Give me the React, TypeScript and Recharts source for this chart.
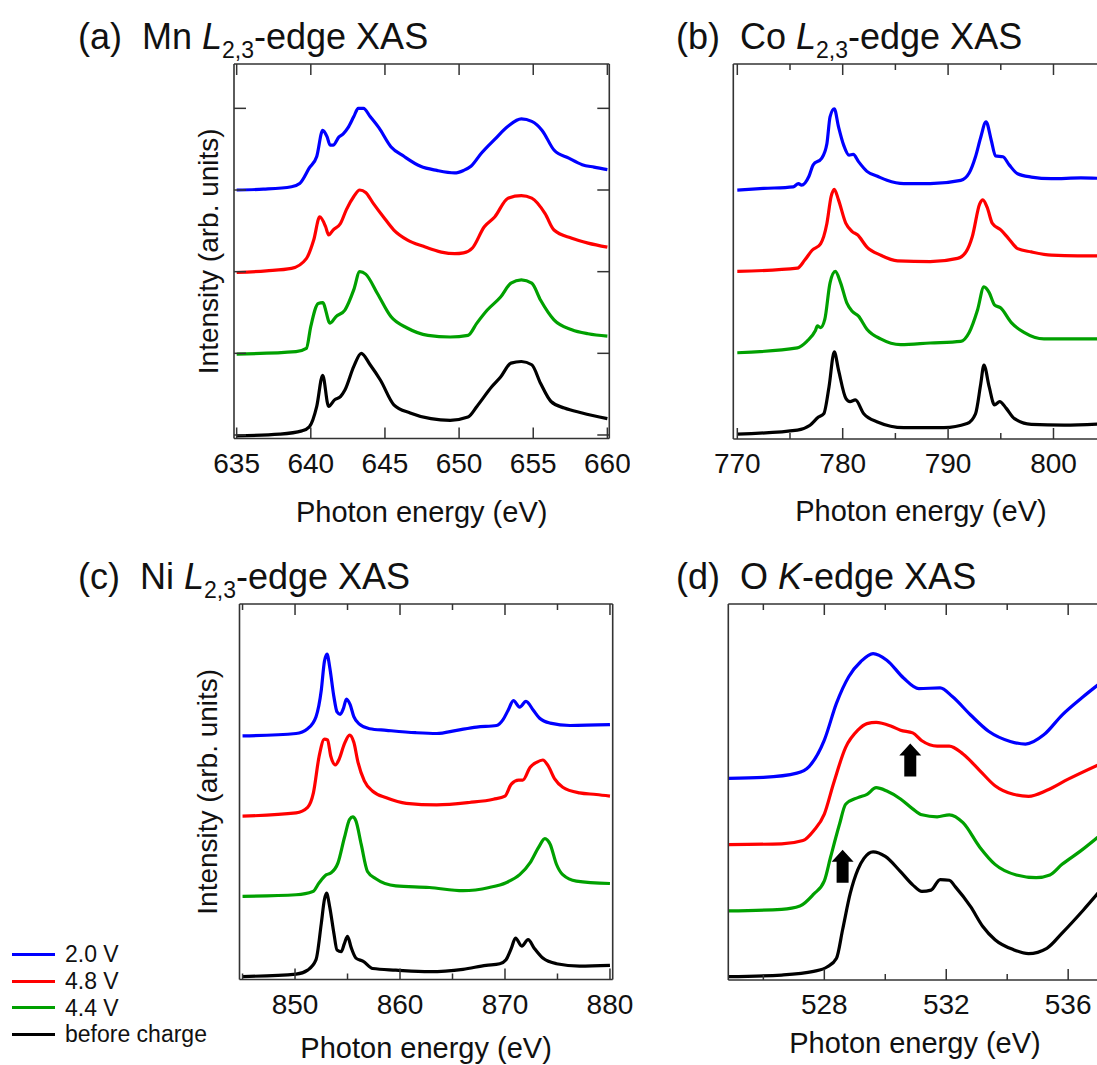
import React from 'react';
import { LineChart, Line, XAxis, YAxis, Legend, ReferenceDot } from 'recharts';

type Pt = [number, number];

const seriesNames = ['2.0 V', '4.8 V', '4.4 V', 'before charge'];
const seriesColors = ['#0000ff', '#ff0000', '#00a000', '#000000'];
const offsets = [3, 2, 1, 0];

// (a) Mn L2,3-edge, intensities relative to each trace baseline
const mnBlue: Pt[] = [[635, 0], [636.8, 0.01], [638.7, 0.04], [639.25, 0.08], [639.9, 0.27], [640.4, 0.41], [640.8, 0.73], [641.1, 0.65], [641.3, 0.55], [641.5, 0.55], [641.9, 0.65], [642.2, 0.69], [642.5, 0.76], [642.9, 0.9], [643.2, 1.0], [643.55, 1.0], [644.0, 0.9], [644.6, 0.76], [645.4, 0.53], [646.3, 0.41], [647.4, 0.29], [648.5, 0.24], [649.7, 0.21], [650.3, 0.24], [650.8, 0.29], [651.5, 0.45], [652.4, 0.62], [653.3, 0.78], [654.2, 0.87], [654.9, 0.84], [655.6, 0.73], [656.4, 0.49], [657.4, 0.39], [658.3, 0.31], [659.1, 0.28], [660, 0.25]];
const mnRed: Pt[] = [[635, -0.01], [637, 0.01], [638.7, 0.04], [639.7, 0.16], [640.2, 0.39], [640.6, 0.67], [641.0, 0.55], [641.2, 0.45], [641.5, 0.51], [642.0, 0.59], [642.4, 0.76], [642.9, 0.92], [643.3, 1.0], [643.7, 0.97], [644.2, 0.84], [644.9, 0.67], [645.6, 0.51], [646.5, 0.39], [647.6, 0.31], [648.8, 0.24], [649.7, 0.22], [650.3, 0.23], [650.9, 0.29], [651.7, 0.55], [652.4, 0.67], [653.3, 0.9], [654.2, 0.93], [654.9, 0.9], [655.8, 0.71], [656.4, 0.51], [657.6, 0.41], [658.7, 0.35], [660, 0.3]];
const mnGreen: Pt[] = [[635, -0.01], [639.0, 0.02], [639.7, 0.06], [640.0, 0.33], [640.5, 0.61], [640.8, 0.62], [641.3, 0.37], [641.7, 0.45], [642.3, 0.53], [642.9, 0.78], [643.3, 1.0], [643.7, 0.97], [644.5, 0.73], [645.4, 0.45], [646.5, 0.31], [647.9, 0.22], [649.4, 0.2], [650.6, 0.22], [651.2, 0.37], [651.9, 0.53], [652.8, 0.69], [653.5, 0.86], [654.2, 0.9], [654.9, 0.86], [655.5, 0.65], [656.4, 0.41], [657.6, 0.29], [658.7, 0.24], [660, 0.21]];
const mnBlack: Pt[] = [[635, -0.01], [637.9, 0.01], [639.4, 0.05], [639.9, 0.1], [640.4, 0.35], [640.8, 0.73], [641.2, 0.35], [641.6, 0.43], [642.0, 0.47], [642.3, 0.55], [642.9, 0.84], [643.4, 1.0], [644.0, 0.86], [644.7, 0.67], [645.6, 0.37], [646.7, 0.27], [648.1, 0.2], [649.4, 0.18], [650.6, 0.22], [651.2, 0.35], [652.2, 0.59], [652.8, 0.71], [653.5, 0.88], [654.2, 0.9], [654.9, 0.86], [655.5, 0.63], [656.2, 0.41], [657.1, 0.33], [658.3, 0.27], [660, 0.2]];

// (b) Co L2,3-edge
const coBlue: Pt[] = [[770, -0.01], [772.5, 0.01], [775.3, 0.03], [775.8, 0.07], [776.1, 0.05], [776.8, 0.16], [777.2, 0.3], [778.0, 0.38], [778.5, 0.56], [778.8, 0.89], [779.2, 0.99], [779.6, 0.77], [780.1, 0.54], [780.6, 0.42], [781.0, 0.43], [781.5, 0.34], [782.3, 0.22], [783.3, 0.16], [784.2, 0.11], [785.8, 0.07], [788.3, 0.07], [791.2, 0.11], [792.0, 0.2], [792.6, 0.4], [793.1, 0.64], [793.6, 0.83], [794.1, 0.6], [794.5, 0.41], [795.2, 0.4], [795.8, 0.3], [796.6, 0.19], [797.9, 0.15], [799.8, 0.13], [802.6, 0.14], [805.2, 0.13]];
const coRed: Pt[] = [[770, -0.01], [775.7, 0.03], [776.4, 0.13], [777.1, 0.25], [777.9, 0.33], [778.5, 0.58], [778.9, 0.91], [779.2, 1.0], [779.6, 0.87], [780.3, 0.58], [780.9, 0.48], [781.4, 0.44], [782.3, 0.29], [783.6, 0.19], [785.2, 0.12], [788.3, 0.11], [790.9, 0.15], [791.7, 0.23], [792.3, 0.42], [793.0, 0.82], [793.3, 0.87], [793.7, 0.78], [794.2, 0.58], [795.0, 0.5], [795.7, 0.4], [796.6, 0.27], [797.9, 0.23], [799.8, 0.19], [802.3, 0.18], [805.2, 0.18]];
const coGreen: Pt[] = [[770, -0.01], [775.7, 0.05], [776.6, 0.13], [777.4, 0.26], [777.6, 0.32], [777.9, 0.3], [778.3, 0.4], [778.8, 0.85], [779.3, 0.99], [779.8, 0.85], [780.4, 0.6], [780.9, 0.5], [781.5, 0.44], [782.3, 0.28], [783.6, 0.16], [785.5, 0.09], [788.3, 0.11], [791.2, 0.13], [792.0, 0.24], [792.8, 0.52], [793.4, 0.8], [793.9, 0.73], [794.4, 0.58], [795.0, 0.54], [796.0, 0.36], [797.2, 0.24], [799.1, 0.16], [801.7, 0.16], [805.2, 0.16]];
const coBlack: Pt[] = [[770, -0.01], [775.7, 0.04], [776.9, 0.1], [777.7, 0.2], [778.2, 0.24], [778.7, 0.57], [779.2, 1.0], [779.6, 0.78], [780.3, 0.43], [780.7, 0.39], [781.2, 0.41], [782.0, 0.24], [783.3, 0.14], [785.8, 0.07], [789.6, 0.07], [791.8, 0.12], [792.6, 0.24], [793.1, 0.61], [793.4, 0.84], [793.9, 0.57], [794.4, 0.35], [794.9, 0.39], [795.5, 0.31], [796.3, 0.18], [797.9, 0.11], [801.0, 0.1], [805.2, 0.12]];

// (c) Ni L2,3-edge
const niBlue: Pt[] = [[845, -0.01], [850.1, 0.02], [851.2, 0.08], [852.0, 0.23], [852.5, 0.56], [852.8, 0.92], [853.05, 1.01], [853.3, 0.85], [853.7, 0.48], [854.0, 0.29], [854.3, 0.26], [854.6, 0.33], [854.9, 0.45], [855.25, 0.38], [855.6, 0.23], [856.1, 0.14], [857.1, 0.08], [858.7, 0.06], [861.5, 0.03], [863.5, 0.02], [865.4, 0.06], [867.3, 0.1], [869.2, 0.12], [869.8, 0.19], [870.3, 0.31], [870.8, 0.43], [871.4, 0.35], [872.0, 0.42], [872.7, 0.31], [873.3, 0.21], [874.3, 0.15], [876.2, 0.12], [880, 0.13]];
const niRed: Pt[] = [[845, -0.01], [850.1, 0.03], [851.2, 0.1], [851.75, 0.28], [852.3, 0.74], [852.8, 0.95], [853.1, 0.94], [853.4, 0.74], [853.85, 0.63], [854.2, 0.7], [854.7, 0.89], [855.2, 1.0], [855.6, 0.91], [856.0, 0.66], [856.6, 0.43], [857.4, 0.3], [858.7, 0.22], [860.6, 0.15], [863.5, 0.13], [866.6, 0.16], [868.9, 0.2], [870.0, 0.24], [870.6, 0.39], [871.3, 0.44], [871.7, 0.44], [872.4, 0.6], [873.0, 0.66], [873.6, 0.69], [874.1, 0.62], [874.75, 0.45], [875.5, 0.35], [877.1, 0.28], [878.7, 0.26], [880, 0.24]];
const niGreen: Pt[] = [[845, -0.01], [850.1, 0.01], [851.7, 0.05], [852.3, 0.16], [853.0, 0.26], [853.4, 0.28], [854.1, 0.41], [854.7, 0.72], [855.2, 0.95], [855.5, 0.98], [855.8, 0.93], [856.3, 0.64], [856.9, 0.3], [857.7, 0.21], [859.6, 0.12], [862.8, 0.1], [866.0, 0.06], [868.5, 0.1], [870.1, 0.16], [871.4, 0.26], [872.4, 0.41], [873.2, 0.6], [873.8, 0.71], [874.3, 0.64], [874.9, 0.39], [875.5, 0.26], [876.8, 0.18], [880, 0.15]];
const niBlack: Pt[] = [[845, -0.01], [850.1, 0.02], [851.2, 0.07], [852.0, 0.2], [852.5, 0.65], [852.8, 0.95], [853.0, 1.03], [853.3, 0.86], [853.7, 0.53], [854.0, 0.32], [854.4, 0.3], [854.7, 0.4], [855.0, 0.49], [855.35, 0.35], [855.8, 0.22], [856.5, 0.18], [857.4, 0.09], [859.6, 0.07], [862.8, 0.05], [866.0, 0.08], [868.2, 0.13], [869.5, 0.15], [870.1, 0.2], [870.6, 0.34], [871.0, 0.47], [871.6, 0.37], [872.2, 0.45], [872.8, 0.34], [873.6, 0.22], [874.9, 0.15], [877.1, 0.12], [880, 0.13]];

// (d) O K-edge
const oBlue: Pt[] = [[524.85, -0.01], [526.0, 0.005], [527.1, 0.07], [527.5, 0.17], [528.0, 0.57], [528.4, 1.13], [528.8, 1.53], [529.2, 1.76], [529.6, 1.88], [530.05, 1.78], [530.6, 1.51], [531.1, 1.35], [531.8, 1.36], [532.2, 1.23], [532.8, 0.95], [533.4, 0.7], [534.1, 0.55], [534.6, 0.51], [535.2, 0.65], [535.8, 0.95], [536.5, 1.23], [537.1, 1.45]];
const oRed: Pt[] = [[524.85, -0.01], [526.6, 0], [527.3, 0.05], [527.65, 0.2], [528.0, 0.45], [528.3, 0.91], [528.7, 1.46], [529.1, 1.72], [529.4, 1.82], [529.7, 1.84], [530.2, 1.78], [530.5, 1.72], [530.9, 1.68], [531.2, 1.56], [531.7, 1.48], [532.1, 1.48], [532.55, 1.36], [533.1, 1.11], [533.6, 0.88], [534.2, 0.75], [534.7, 0.72], [535.3, 0.81], [536.0, 0.98], [537.1, 1.22]];
const oGreen: Pt[] = [[524.85, -0.015], [526.6, 0.01], [527.2, 0.06], [527.65, 0.24], [528.0, 0.44], [528.2, 0.79], [528.5, 1.3], [528.7, 1.6], [529.1, 1.7], [529.4, 1.75], [529.7, 1.85], [530.05, 1.8], [530.5, 1.68], [530.9, 1.53], [531.2, 1.44], [531.7, 1.41], [532.1, 1.44], [532.55, 1.32], [533.1, 0.95], [533.6, 0.69], [534.3, 0.53], [534.95, 0.49], [535.4, 0.53], [535.8, 0.69], [536.4, 0.89], [537.1, 1.15]];
const oBlack: Pt[] = [[524.85, -0.01], [526.6, 0.015], [527.65, 0.07], [528.1, 0.14], [528.4, 0.27], [528.6, 0.7], [528.85, 1.25], [529.1, 1.61], [529.3, 1.78], [529.6, 1.88], [530.0, 1.81], [530.5, 1.58], [530.9, 1.38], [531.2, 1.28], [531.5, 1.3], [531.8, 1.46], [532.1, 1.45], [532.3, 1.35], [532.8, 1.05], [533.2, 0.75], [533.6, 0.55], [534.2, 0.4], [534.7, 0.34], [535.3, 0.42], [535.8, 0.65], [536.5, 1.0], [537.1, 1.32]];

// arrow tips in panel (d), in axis units
const oArrows = [{ x: 530.82, y: 3.52 }, { x: 528.6, y: 1.91 }];

const FRAME = '#333';
const TEXT = '#111';

const toRows = (pts: Pt[], off: number) => pts.map(([x, y]) => ({ x, y: y + off }));

const makeXTick = (major: number[], labels: number[], top: boolean) => (props: any) => {
  const { x, y, payload } = props;
  const v = payload.value;
  const len = major.includes(v) ? 11 : 6;
  return (
    <g>
      <line x1={x} x2={x} y1={y} y2={top ? y + len : y - len} stroke={FRAME} strokeWidth={1.5} />
      {!top && labels.includes(v) && (
        <text x={x} y={y + 34} textAnchor="middle" fontSize={28} fill={TEXT}>{v}</text>
      )}
    </g>
  );
};

const makeYTick = (right: boolean) => (props: any) => {
  const { x, y } = props;
  return <line x1={x} x2={right ? x - 12 : x + 12} y1={y} y2={y} stroke={FRAME} strokeWidth={1.5} />;
};

const YTitle = (props: any) => {
  const vb = props.viewBox || { x: 0, y: 0, width: 0, height: 0 };
  const cx = vb.x + (vb.width || 0) - props.gap;
  const cy = vb.y + vb.height / 2;
  return (
    <text x={cx} y={cy} transform={`rotate(-90 ${cx} ${cy})`} textAnchor="middle" dominantBaseline="central" fontSize={28} fill={TEXT}>
      Intensity (arb. units)
    </text>
  );
};

const LegendRows = (props: any) => {
  const rows = [...(props.payload || [])].sort(
    (a: any, b: any) => seriesNames.indexOf(a.value) - seriesNames.indexOf(b.value),
  );
  return (
    <div style={{ fontSize: 23, color: TEXT }}>
      {rows.map((p: any) => (
        <div key={p.value} style={{ display: 'flex', alignItems: 'center', height: 26.8 }}>
          <span style={{ display: 'inline-block', width: 43, height: 3, background: p.color, marginRight: 10 }} />
          <span>{p.value}</span>
        </div>
      ))}
    </div>
  );
};

const ArrowUp = (props: any) => {
  const { cx, cy } = props;
  const d = `M${cx},${cy} L${cx + 11},${cy + 12} L${cx + 6},${cy + 12} L${cx + 6},${cy + 33} L${cx - 6},${cy + 33} L${cx - 6},${cy + 12} L${cx - 11},${cy + 12} Z`;
  return <path d={d} fill="#000" />;
};

interface PanelProps {
  curves: Pt[][];
  pos: { left: number; top: number; width: number; height: number };
  plot: { top: number; right: number; bottom: number; left: number };
  xDomain: [number, number];
  yDomain: [number, number];
  xTicks: number[];
  majors: number[];
  yTicks?: number[];
  yTitleGap?: number;
  titleOffset: number;
  legend?: boolean;
  arrows?: { x: number; y: number }[];
}

// axes are 1px thick boxes, so margins are the plot inset minus 1
const Panel = ({ curves, pos, plot, xDomain, yDomain, xTicks, majors, yTicks, yTitleGap, titleOffset, legend, arrows }: PanelProps) => (
  <div style={{ position: 'absolute', ...pos }}>
    <LineChart width={pos.width} height={pos.height}
      margin={{ top: plot.top - 1, right: plot.right - 1, bottom: plot.bottom - 1, left: plot.left - 1 }}>
      <XAxis xAxisId="b" type="number" dataKey="x" domain={xDomain} allowDataOverflow ticks={xTicks} interval={0}
        height={1} tickSize={0} tickMargin={0} tickLine={false} axisLine={{ stroke: FRAME, strokeWidth: 1.6 }}
        tick={makeXTick(majors, majors, false)}
        label={{ value: 'Photon energy (eV)', position: 'bottom', offset: titleOffset, fontSize: 29, fill: TEXT }} />
      <XAxis xAxisId="t" orientation="top" type="number" dataKey="x" domain={xDomain} allowDataOverflow ticks={xTicks} interval={0}
        height={1} tickSize={0} tickMargin={0} tickLine={false} axisLine={{ stroke: FRAME, strokeWidth: 1.6 }}
        tick={makeXTick(majors, [], true)} />
      <YAxis yAxisId="l" type="number" domain={yDomain} allowDataOverflow width={1} ticks={yTicks || [0]} interval={0}
        tickSize={0} tickMargin={0} tickLine={false} axisLine={{ stroke: FRAME, strokeWidth: 1.6 }}
        tick={yTicks ? makeYTick(false) : false}
        label={yTitleGap ? <YTitle gap={yTitleGap} /> : undefined} />
      <YAxis yAxisId="r" orientation="right" type="number" domain={yDomain} allowDataOverflow width={1} ticks={yTicks || [0]} interval={0}
        tickSize={0} tickMargin={0} tickLine={false} axisLine={{ stroke: FRAME, strokeWidth: 1.6 }}
        tick={yTicks ? makeYTick(true) : false} />
      {curves.map((c, i) => (
        <Line key={seriesNames[i]} name={seriesNames[i]} xAxisId="b" yAxisId="l" data={toRows(c, offsets[i])} dataKey="y"
          type="monotone" stroke={seriesColors[i]} strokeWidth={3.2} dot={false}
          strokeLinejoin="round" isAnimationActive={false} />
      ))}
      {(arrows || []).map((a, i) => (
        <ReferenceDot key={i} xAxisId="b" yAxisId="l" x={a.x} y={a.y} r={1} shape={ArrowUp} />
      ))}
      {legend && (
        <Legend layout="vertical" align="center" verticalAlign="middle"
          wrapperStyle={{ left: 12, top: 381, width: 220 }} content={LegendRows} />
      )}
    </LineChart>
  </div>
);

const titleStyle: React.CSSProperties = {
  position: 'absolute', fontSize: 36, lineHeight: '36px', whiteSpace: 'pre', color: TEXT,
};
const subStyle: React.CSSProperties = { fontSize: 23, verticalAlign: '-9px', lineHeight: 0 };

const Title = ({ left, top, tag, el, edge, sub }: { left: number; top: number; tag: string; el: string; edge: string; sub?: string }) => (
  <div style={{ ...titleStyle, left, top }}>
    {`(${tag})  ${el} `}<i>{edge}</i>{sub && <span style={subStyle}>{sub}</span>}-edge XAS
  </div>
);

export default function App() {
  return (
    <div style={{ position: 'absolute', left: 0, top: 0, width: 1097, height: 1065, overflow: 'hidden', background: '#fff', fontFamily: '"Liberation Sans", Arial, sans-serif' }}>
      <Title left={78} top={19} tag="a" el="Mn" edge="L" sub="2,3" />
      <Title left={676} top={19} tag="b" el="Co" edge="L" sub="2,3" />
      <Title left={78} top={559} tag="c" el="Ni" edge="L" sub="2,3" />
      <Title left={676} top={559} tag="d" el="O" edge="K" />

      <Panel curves={[mnBlue, mnRed, mnGreen, mnBlack]}
        pos={{ left: 150, top: 60, width: 480, height: 480 }}
        plot={{ top: 4, right: 20.7, bottom: 101.5, left: 84 }}
        xDomain={[634.82, 660.13]} yDomain={[-0.043, 4.543]}
        xTicks={[635, 640, 645, 650, 655, 660]} majors={[635, 640, 645, 650, 655, 660]}
        yTicks={[0, 1, 2, 3, 4]} yTitleGap={26} titleOffset={62} />

      <Panel curves={[coBlue, coRed, coGreen, coBlack]}
        pos={{ left: 650, top: 60, width: 480, height: 480 }}
        plot={{ top: 4, right: 21.5, bottom: 101, left: 83.3 }}
        xDomain={[769.62, 805.22]} yDomain={[-0.07, 4.54]}
        xTicks={[770, 775, 780, 785, 790, 795, 800, 805]} majors={[770, 780, 790, 800]}
        titleOffset={60} />

      <Panel curves={[niBlue, niRed, niGreen, niBlack]}
        pos={{ left: 0, top: 560, width: 640, height: 505 }}
        plot={{ top: 44, right: 27.3, bottom: 85.5, left: 239.5 }}
        xDomain={[844.71, 880.26]} yDomain={[-0.047, 4.635]}
        xTicks={[845, 850, 855, 860, 865, 870, 875, 880]} majors={[850, 860, 870, 880]}
        yTitleGap={32} titleOffset={57} legend />

      <Panel curves={[oBlue, oRed, oGreen, oBlack]}
        pos={{ left: 650, top: 560, width: 480, height: 505 }}
        plot={{ top: 44, right: 28.3, bottom: 85, left: 78.3 }}
        xDomain={[524.85, 537.1]} yDomain={[-0.06, 5.63]}
        xTicks={[526, 528, 530, 532, 534, 536]} majors={[528, 532, 536]}
        titleOffset={51} arrows={oArrows} />
    </div>
  );
}
